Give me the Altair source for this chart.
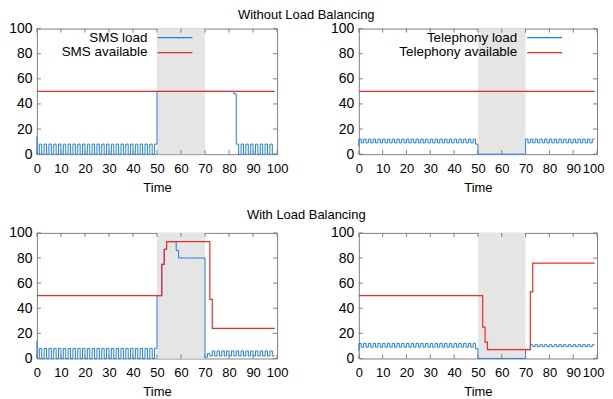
import altair as alt
import pandas as pd

# ---------------- data ----------------
TIME_TICKS = [0, 10, 20, 30, 40, 50, 60, 70, 80, 90, 100]
VALUE_TICKS = [0, 20, 40, 60, 80, 100]
CONTINGENCY = [50, 70]  # shaded interval

# series sampled at t = 0..99 (step-after); *_START = value at t=0 before the first sample
SMS_START = 14
SMS_LOAD_NOLB = [
    0, 8, 0, 8, 0, 8, 0, 8, 0, 8,
    0, 8, 0, 8, 0, 8, 0, 8, 0, 8,
    0, 8, 0, 8, 0, 8, 0, 8, 0, 8,
    0, 8, 0, 8, 0, 8, 0, 8, 0, 8,
    0, 8, 0, 8, 0, 8, 0, 8, 0, 8,
    50, 50, 50, 50, 50, 50, 50, 50, 50, 50,
    50, 50, 50, 50, 50, 50, 50, 50, 50, 50,
    50, 50, 50, 50, 50, 50, 50, 50, 50, 50,
    50, 50, 48, 8, 0, 8, 0, 8, 0, 8,
    0, 8, 0, 8, 0, 8, 0, 8, 0, 0,
]
SMS_AVAIL_NOLB = [
    50, 50, 50, 50, 50, 50, 50, 50, 50, 50,
    50, 50, 50, 50, 50, 50, 50, 50, 50, 50,
    50, 50, 50, 50, 50, 50, 50, 50, 50, 50,
    50, 50, 50, 50, 50, 50, 50, 50, 50, 50,
    50, 50, 50, 50, 50, 50, 50, 50, 50, 50,
    50, 50, 50, 50, 50, 50, 50, 50, 50, 50,
    50, 50, 50, 50, 50, 50, 50, 50, 50, 50,
    50, 50, 50, 50, 50, 50, 50, 50, 50, 50,
    50, 50, 50, 50, 50, 50, 50, 50, 50, 50,
    50, 50, 50, 50, 50, 50, 50, 50, 50, 50,
]
TEL_START = 6
TEL_LOAD_NOLB = [
    12, 9, 12, 9, 12, 9, 12, 9, 12, 9,
    12, 9, 12, 9, 12, 9, 12, 9, 12, 9,
    12, 9, 12, 9, 12, 9, 12, 9, 12, 9,
    12, 9, 12, 9, 12, 9, 12, 9, 12, 9,
    12, 9, 12, 9, 12, 9, 12, 9, 12, 8,
    0, 0, 0, 0, 0, 0, 0, 0, 0, 0,
    0, 0, 0, 0, 0, 0, 0, 0, 0, 0,
    12, 9, 12, 9, 12, 9, 12, 9, 12, 9,
    12, 9, 12, 9, 12, 9, 12, 9, 12, 9,
    12, 9, 12, 9, 12, 9, 12, 9, 12, 12,
]
TEL_AVAIL_NOLB = [
    50, 50, 50, 50, 50, 50, 50, 50, 50, 50,
    50, 50, 50, 50, 50, 50, 50, 50, 50, 50,
    50, 50, 50, 50, 50, 50, 50, 50, 50, 50,
    50, 50, 50, 50, 50, 50, 50, 50, 50, 50,
    50, 50, 50, 50, 50, 50, 50, 50, 50, 50,
    50, 50, 50, 50, 50, 50, 50, 50, 50, 50,
    50, 50, 50, 50, 50, 50, 50, 50, 50, 50,
    50, 50, 50, 50, 50, 50, 50, 50, 50, 50,
    50, 50, 50, 50, 50, 50, 50, 50, 50, 50,
    50, 50, 50, 50, 50, 50, 50, 50, 50, 50,
]
SMS_LOAD_LB = [
    0, 8, 0, 8, 0, 8, 0, 8, 0, 8,
    0, 8, 0, 8, 0, 8, 0, 8, 0, 8,
    0, 8, 0, 8, 0, 8, 0, 8, 0, 8,
    0, 8, 0, 8, 0, 8, 0, 8, 0, 8,
    0, 8, 0, 8, 0, 8, 0, 8, 0, 8,
    50, 50, 75, 87, 93, 93, 93, 93, 86, 80,
    80, 80, 80, 80, 80, 80, 80, 80, 80, 80,
    1, 4, 2, 6, 2, 6, 2, 6, 2, 6,
    2, 6, 2, 6, 2, 6, 2, 6, 2, 6,
    2, 6, 2, 6, 2, 6, 2, 6, 2, 2,
]
SMS_AVAIL_LB = [
    50, 50, 50, 50, 50, 50, 50, 50, 50, 50,
    50, 50, 50, 50, 50, 50, 50, 50, 50, 50,
    50, 50, 50, 50, 50, 50, 50, 50, 50, 50,
    50, 50, 50, 50, 50, 50, 50, 50, 50, 50,
    50, 50, 50, 50, 50, 50, 50, 50, 50, 50,
    50, 50, 75, 87, 93, 93, 93, 93, 93, 93,
    93, 93, 93, 93, 93, 93, 93, 93, 93, 93,
    93, 93, 47, 24, 24, 24, 24, 24, 24, 24,
    24, 24, 24, 24, 24, 24, 24, 24, 24, 24,
    24, 24, 24, 24, 24, 24, 24, 24, 24, 24,
]
TEL_LOAD_LB = [
    12, 9, 12, 9, 12, 9, 12, 9, 12, 9,
    12, 9, 12, 9, 12, 9, 12, 9, 12, 9,
    12, 9, 12, 9, 12, 9, 12, 9, 12, 9,
    12, 9, 12, 9, 12, 9, 12, 9, 12, 9,
    12, 9, 12, 9, 12, 9, 12, 9, 12, 8,
    0, 0, 0, 0, 0, 0, 0, 0, 0, 0,
    0, 0, 0, 0, 0, 0, 0, 0, 0, 0,
    7, 7, 11, 9.5, 11, 9.5, 11, 9.5, 11, 9.5,
    11, 9.5, 11, 9.5, 11, 9.5, 11, 9.5, 11, 9.5,
    11, 9.5, 11, 9.5, 11, 9.5, 11, 9.5, 11, 11,
]
TEL_AVAIL_LB = [
    50, 50, 50, 50, 50, 50, 50, 50, 50, 50,
    50, 50, 50, 50, 50, 50, 50, 50, 50, 50,
    50, 50, 50, 50, 50, 50, 50, 50, 50, 50,
    50, 50, 50, 50, 50, 50, 50, 50, 50, 50,
    50, 50, 50, 50, 50, 50, 50, 50, 50, 50,
    50, 50, 25, 13, 7, 7, 7, 7, 7, 7,
    7, 7, 7, 7, 7, 7, 7, 7, 7, 7,
    7, 7, 53, 76, 76, 76, 76, 76, 76, 76,
    76, 76, 76, 76, 76, 76, 76, 76, 76, 76,
    76, 76, 76, 76, 76, 76, 76, 76, 76, 76,
]

# ---------------- style ----------------
FONT = "Liberation Sans"
BLUE = "#1f7ee8"
RED = "#f42a2a"
BAND_COLOR = "#e5e5e5"
FRAME = "#808080"
W_LEFT, W_RIGHT, H = 241, 239, 126
TICK = 4

xs = alt.Scale(domain=[0, 100], nice=False, zero=False)
ys = alt.Scale(domain=[0, 100], nice=False, zero=False)
Y_AXIS = alt.Axis(values=VALUE_TICKS, title=None, labelPadding=5, labelFontSize=14)


def x_axis(last_shift):
    return alt.Axis(
        values=TIME_TICKS, title="Time", labelFlush=False, labelOverlap=False,
        labelPadding=8, titlePadding=6, labelFontSize=13,
        labelOffset=alt.condition("datum.value == 100", alt.value(last_shift), alt.value(0)),
    )


def series_frame(start, values):
    rows = [{"t": 0, "v": start, "i": -1}]
    rows += [{"t": t, "v": v, "i": t} for t, v in enumerate(values)]
    return pd.DataFrame(rows)


def panel(W, load_start, load_vals, avail_vals, legend=None, last_shift=0):
    X_AXIS = x_axis(last_shift)
    band = alt.Chart(pd.DataFrame({"a": [CONTINGENCY[0]], "b": [CONTINGENCY[1]]})).mark_rect(
        fill=BAND_COLOR, strokeWidth=0
    ).encode(
        x=alt.X("a:Q", scale=xs, axis=X_AXIS), x2="b:Q",
        y=alt.value(0), y2=alt.value(H),
    )
    load = alt.Chart(series_frame(load_start, load_vals)).mark_line(
        interpolate="step-after", strokeWidth=1
    ).encode(
        x=alt.X("t:Q", scale=xs, axis=X_AXIS),
        y=alt.Y("v:Q", scale=ys, axis=Y_AXIS),
        order="i:Q",
        color=alt.value(BLUE),
    )
    avail = alt.Chart(series_frame(avail_vals[0], avail_vals)).mark_line(
        interpolate="step-after", strokeWidth=1.2
    ).encode(
        x=alt.X("t:Q", scale=xs, axis=X_AXIS),
        y=alt.Y("v:Q", scale=ys, axis=Y_AXIS),
        order="i:Q",
        color=alt.value(RED),
    )
    xt = pd.DataFrame({"t": TIME_TICKS})
    yt = pd.DataFrame({"v": VALUE_TICKS})
    tb = alt.Chart(xt).mark_rule().encode(
        x=alt.X("t:Q", scale=xs, axis=X_AXIS), y=alt.value(H), y2=alt.value(H - TICK),
        color=alt.value(FRAME))
    tt = alt.Chart(xt).mark_rule().encode(
        x=alt.X("t:Q", scale=xs, axis=X_AXIS), y=alt.value(0), y2=alt.value(TICK),
        color=alt.value(FRAME))
    tl = alt.Chart(yt).mark_rule().encode(
        y=alt.Y("v:Q", scale=ys, axis=Y_AXIS), x=alt.value(0), x2=alt.value(TICK),
        color=alt.value(FRAME))
    tr = alt.Chart(yt).mark_rule().encode(
        y=alt.Y("v:Q", scale=ys, axis=Y_AXIS), x=alt.value(W - TICK), x2=alt.value(W),
        color=alt.value(FRAME))
    layers = [band, load, avail, tb, tt, tl, tr]
    if legend:
        (lab1, lab2, text_right, line_l, line_r) = legend
        for lab, col, yy in [(lab1, BLUE, 9), (lab2, RED, 24)]:
            layers.append(alt.Chart(pd.DataFrame({"k": [lab]})).mark_text(
                align="right", baseline="middle", font=FONT, fontSize=13.5
            ).encode(x=alt.value(text_right), y=alt.value(yy), text="k:N",
                     color=alt.value("black")))
            layers.append(alt.Chart(pd.DataFrame({"sample": [col]})).mark_rect(strokeWidth=0).encode(
                x=alt.value(line_l), x2=alt.value(line_r),
                y=alt.value(yy - 0.6), y2=alt.value(yy + 0.7),
                fill=alt.value(col)))
    return alt.layer(*layers).properties(width=W, height=H)


def row_title(text, offset):
    return alt.TitleParams(text, anchor="middle", font=FONT, fontSize=13,
                           fontWeight="normal", color="black", offset=offset)


top = alt.hconcat(
    panel(W_LEFT, SMS_START, SMS_LOAD_NOLB, SMS_AVAIL_NOLB,
          ("SMS load", "SMS available", 111, 121, 156)),
    panel(W_RIGHT, TEL_START, TEL_LOAD_NOLB, TEL_AVAIL_NOLB,
          ("Telephony load", "Telephony available", 159, 169, 204), last_shift=-4),
    spacing=82, bounds="flush", title=row_title("Without Load Balancing", -1),
)
bottom = alt.hconcat(
    panel(W_LEFT, SMS_START, SMS_LOAD_LB, SMS_AVAIL_LB),
    panel(W_RIGHT, TEL_START, TEL_LOAD_LB, TEL_AVAIL_LB, last_shift=-4),
    spacing=82, bounds="flush", title=row_title("With Load Balancing", 3),
)

chart = alt.vconcat(top, bottom, spacing=14).properties(
    padding={"left": 0, "top": 0, "right": 0, "bottom": 0},
    background="white",
).configure_view(
    stroke=FRAME, strokeWidth=1
).configure_axis(
    domain=False, ticks=False, grid=False,
    labelFont=FONT, labelColor="black",
    titleFont=FONT, titleFontSize=13, titleFontWeight="normal", titleColor="black",
)

chart.save("out.html", embed_options={"renderer": "svg", "actions": False})
